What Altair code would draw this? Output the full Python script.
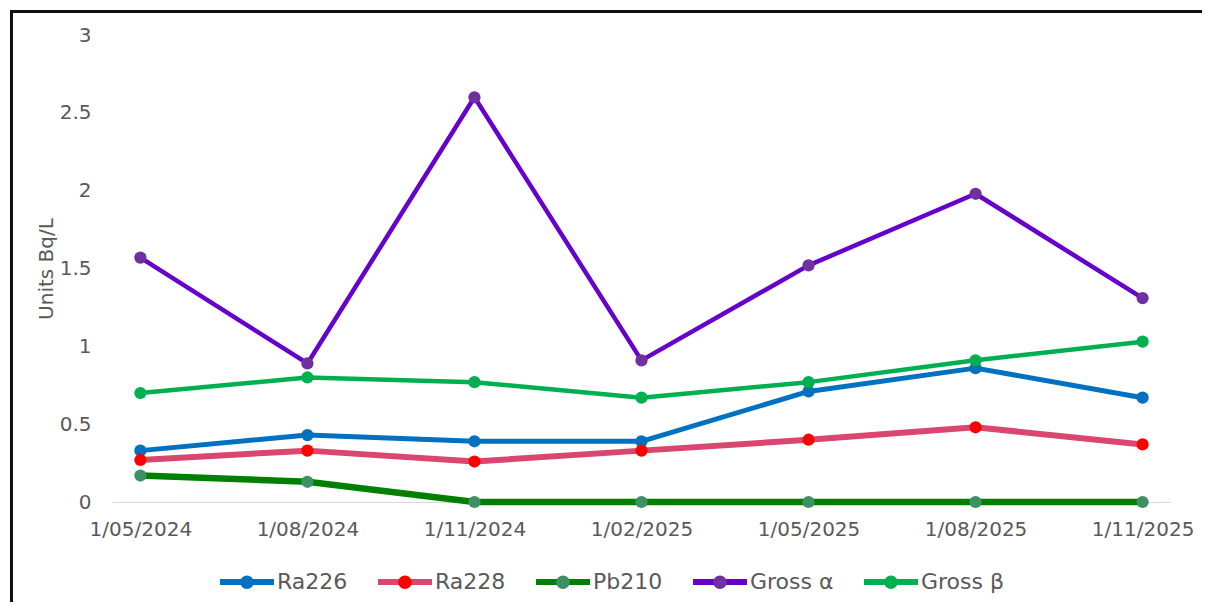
import altair as alt
import pandas as pd

dates = ["1/05/2024", "1/08/2024", "1/11/2024", "1/02/2025", "1/05/2025", "1/08/2025", "1/11/2025"]
series_names = ["Ra226", "Ra228", "Pb210", "Gross α", "Gross β"]
ra226 = [0.33, 0.43, 0.39, 0.39, 0.71, 0.86, 0.67]
ra228 = [0.27, 0.33, 0.26, 0.33, 0.40, 0.48, 0.37]
pb210 = [0.17, 0.13, 0.0, 0.0, 0.0, 0.0, 0.0]
gross_alpha = [1.57, 0.89, 2.60, 0.91, 1.52, 1.98, 1.31]
gross_beta = [0.70, 0.80, 0.77, 0.67, 0.77, 0.91, 1.03]
y_ticks = [0, 0.5, 1, 1.5, 2, 2.5, 3]

line_colors = ["#0070C0", "#D9466F", "#008000", "#6600CC", "#00B050"]
marker_colors = ["#0070C0", "#FF0000", "#3C9164", "#7030A0", "#00B050"]
line_widths = [5, 6, 6.5, 4.5, 4.5]

values = [ra226, ra228, pb210, gross_alpha, gross_beta]
point_keys = ["p:" + n for n in series_names]
rows = []
for name, key, vals in zip(series_names, point_keys, values):
    for d, v in zip(dates, vals):
        rows.append({"date": d, "series": name, "series_pt": key, "value": v})
df = pd.DataFrame(rows)

FONT = "DejaVu Sans"
TXT = "#595959"
W, H = 1059, 467

x_enc = alt.X(
    "date:O", sort=dates,
    scale=alt.Scale(type="point", padding=0.17),
    axis=alt.Axis(title=None, labelAngle=0, ticks=False, grid=False,
                  domainColor="#D9D9D9", domainWidth=1.2, labelPadding=17),
)
y_enc = alt.Y(
    "value:Q",
    scale=alt.Scale(domain=[0, 3], nice=False),
    axis=alt.Axis(title="Units Bq/L", values=y_ticks, format="~g", grid=False,
                  domain=False, ticks=False, labelPadding=21, titlePadding=3),
)

common_legend = dict(orient="none", legendX=105, legendY=517,
                     direction="horizontal", columns=5, symbolSize=2916,
                     symbolStrokeWidth=6,
                     columnPadding=18, labelOffset=0, labelFontSize=22,
                     labelFont=FONT, labelColor=TXT)

color_enc = alt.Color(
    "series:N",
    scale=alt.Scale(domain=series_names, range=line_colors),
    legend=alt.Legend(title=None, symbolType="stroke", **common_legend),
)
# invisible full-width stroke keeps the same symbol extent as the line legend
circle_path = "M-1,0 L1,0 M-0.25,0 A0.25,0.25 0 1,0 0.25,0 A0.25,0.25 0 1,0 -0.25,0 Z"
fill_enc = alt.Fill(
    "series_pt:N",
    scale=alt.Scale(domain=point_keys, range=marker_colors),
    legend=alt.Legend(title=None, symbolType=circle_path, symbolStrokeColor="transparent",
                      labelOpacity=0, labelExpr="slice(datum.label, 2)",
                      **common_legend),
)

layers = []
for name, lw in zip(series_names, line_widths):
    sub = df[df["series"] == name]
    base = alt.Chart(sub)
    layers.append(base.mark_line(strokeWidth=lw, strokeJoin="round").encode(x=x_enc, y=y_enc, color=color_enc))
    layers.append(base.mark_circle(size=150, opacity=1).encode(x=x_enc, y=y_enc, fill=fill_enc))

border_left = alt.Chart(pd.DataFrame({"k": [0]})).mark_rule(color="#111111", strokeWidth=3).encode(
    x=alt.value(-100.5), y=alt.value(-25), y2=alt.value(567))
border_top = alt.Chart(pd.DataFrame({"k": [0]})).mark_rule(color="#111111", strokeWidth=3).encode(
    x=alt.value(-102), x2=alt.value(1090), y=alt.value(-23.5))

chart = alt.layer(*layers, border_left, border_top).properties(
    width=W, height=H, padding=0, background="white"
).configure_view(stroke=None).configure_axis(
    labelFont=FONT, labelFontSize=20, labelColor=TXT,
    titleFont=FONT, titleFontSize=20, titleColor=TXT, titleFontWeight="normal",
)

chart.save("out.html", embed_options={"renderer": "svg", "actions": False})
